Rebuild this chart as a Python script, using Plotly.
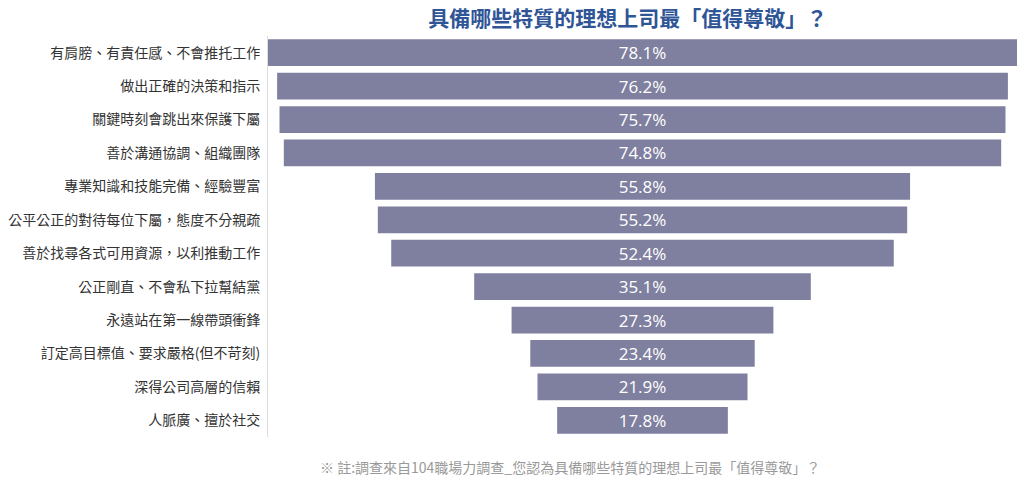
import plotly.graph_objects as go

categories = [
    "有肩膀、有責任感、不會推托工作",
    "做出正確的決策和指示",
    "關鍵時刻會跳出來保護下屬",
    "善於溝通協調、組織團隊",
    "專業知識和技能完備、經驗豐富",
    "公平公正的對待每位下屬，態度不分親疏",
    "善於找尋各式可用資源，以利推動工作",
    "公正剛直、不會私下拉幫結黨",
    "永遠站在第一線帶頭衝鋒",
    "訂定高目標值、要求嚴格(但不苛刻)",
    "深得公司高層的信賴",
    "人脈廣、擅於社交",
]
values = [78.1, 76.2, 75.7, 74.8, 55.8, 55.2, 52.4, 35.1, 27.3, 23.4, 21.9, 17.8]
labels = [f"{v:.1f}%" for v in values]

FONT = "Noto Sans CJK TC"

fig = go.Figure(go.Funnel(
    y=categories,
    x=values,
    text=labels,
    textinfo="text",
    textposition="inside",
    constraintext="none",
    insidetextfont=dict(color="white", size=17, family="Open Sans"),
    marker=dict(color="#7f7f9f", line=dict(width=0)),
    connector=dict(visible=False),
    hoverinfo="skip",
))

half = max(values) / 2
fig.update_layout(
    width=1024, height=485,
    margin=dict(l=268, r=7, t=36, b=48, autoexpand=False),
    paper_bgcolor="white", plot_bgcolor="white",
    font=dict(family=FONT, color="#333333", size=14),
    title=dict(text="<b>具備哪些特質的理想上司最「值得尊敬」？</b>",
               x=0.613, xanchor="center", y=0.962, yanchor="middle",
               font=dict(size=21, color="#2f5597", family=FONT)),
    bargap=0.06,
    showlegend=False,
    xaxis=dict(visible=False, range=[-half, half], fixedrange=True),
    yaxis=dict(showline=True, linecolor="#dddddd", linewidth=1,
               ticks="", ticklabelstandoff=4, automargin=False,
               tickfont=dict(size=14, color="#333333", family=FONT)),
    annotations=[dict(text="※ 註:調查來自104職場力調查_您認為具備哪些特質的理想上司最「值得尊敬」？",
                      xref="paper", yref="paper", x=0.403, y=-0.075,
                      xanchor="center", yanchor="middle", showarrow=False,
                      font=dict(size=14, color="#999999", family=FONT))],
)

fig.write_html("out.html")
